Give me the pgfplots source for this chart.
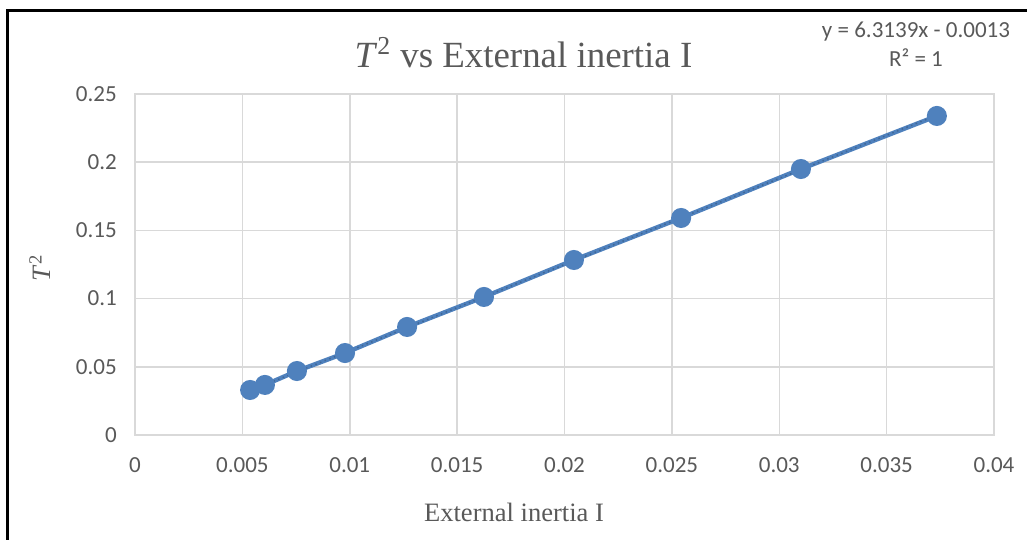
\documentclass[border=0pt]{standalone}
\usepackage{pgfplots}
\pgfplotsset{compat=1.18}
\usepackage{fontspec}
\setmainfont{Liberation Serif}
\newfontfamily\calibri{Carlito}
\definecolor{serie}{RGB}{79,129,189}
\definecolor{rejilla}{RGB}{217,217,217}
\definecolor{texto}{RGB}{89,89,89}

% 1 px of the reference = 0.2 mm
\begin{document}
\begin{tikzpicture}
\path[use as bounding box] (0,0) rectangle (205.4mm,108mm);
\draw[line width=0.45mm, black] (1.5mm,-2mm) -- (1.5mm,105.9mm) -- (210mm,105.9mm);

\begin{axis}[at={(27mm,21mm)}, anchor=south west, scale only axis,
  width=171.8mm, height=68.2mm,
  xmin=0, xmax=0.04, ymin=0, ymax=0.25,
  xtick={0,0.005,...,0.04}, ytick={0,0.05,...,0.25},
  grid=major, grid style={rejilla, line width=0.3mm},
  axis line style={rejilla, line width=0.3mm},
  major tick length=0pt,
  tick label style={font=\calibri\fontsize{13.1}{15}\selectfont, text=texto},
  xticklabel style={yshift=-3.3mm},
  yticklabel style={xshift=-2.4mm},
  /pgf/number format/fixed, /pgf/number format/precision=3,
  /pgf/number format/assume math mode=true,
  scaled ticks=false, clip=false]
\addplot[serie, line width=0.9mm, mark=*, mark size=1.55mm, mark options={solid, fill=serie, draw=serie}]
  coordinates {(0.00536,0.0330) (0.00605,0.0367) (0.00754,0.0469) (0.00978,0.0601) (0.01267,0.0792)
               (0.01625,0.1012) (0.02044,0.1283) (0.02543,0.1591) (0.03101,0.1950) (0.03734,0.2339)};
% linear trendline y = 6.3139x - 0.0013 (end points)
\addplot[serie!80!black, line width=0.3mm, dotted] coordinates {(0.00536,0.0325) (0.03734,0.2345)};
\end{axis}

\node[text=texto, font=\fontsize{21}{24}\selectfont] at (104.7mm,97.4mm) {\textit{T}\textsuperscript{2} vs External inertia I};
\node[text=texto, font=\fontsize{15.1}{18}\selectfont] at (102.8mm,5.6mm) {External inertia I};
\node[text=texto, font=\fontsize{15.1}{18}\selectfont, rotate=90] at (8mm,54.4mm) {\textit{T}\textsuperscript{2}};
\node[text=texto, font=\calibri\fontsize{13.1}{15}\selectfont, align=center, inner sep=0pt] at (183.2mm,99.1mm)
  {y = 6.3139x - 0.0013\\[0.6mm] R² = 1};
\end{tikzpicture}
\end{document}
